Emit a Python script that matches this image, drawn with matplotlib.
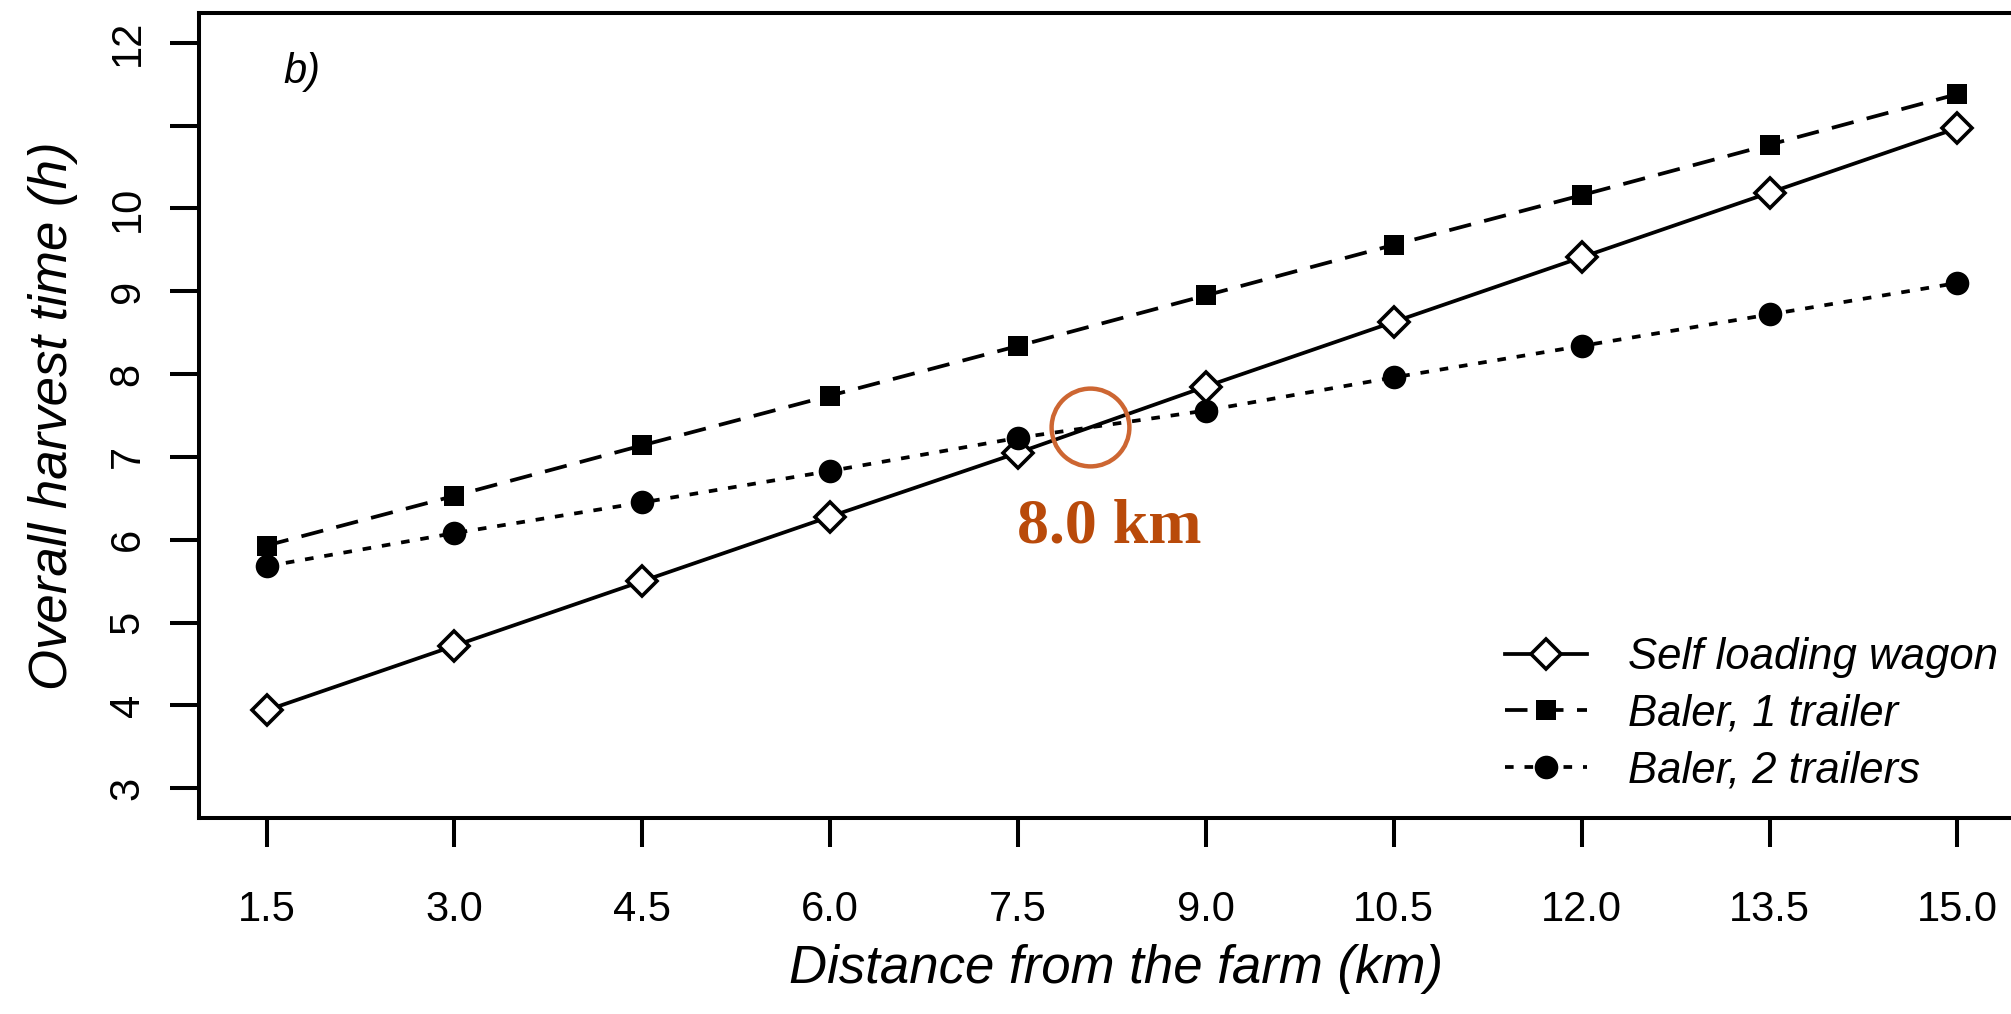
import numpy as np
import matplotlib.pyplot as plt

distance = [1.5, 3.0, 4.5, 6.0, 7.5, 9.0, 10.5, 12.0, 13.5, 15.0]
wagon = [3.94, 4.72, 5.50, 6.28, 7.05, 7.85, 8.63, 9.41, 10.19, 10.97]
baler_1 = [5.93, 6.53, 7.14, 7.74, 8.34, 8.95, 9.56, 10.16, 10.77, 11.38]
baler_2 = [5.68, 6.08, 6.45, 6.83, 7.23, 7.56, 7.96, 8.34, 8.72, 9.10]
series_labels = ['Self loading wagon', 'Baler, 1 trailer', 'Baler, 2 trailers']
x_ticklabels = ['1.5', '3.0', '4.5', '6.0', '7.5', '9.0', '10.5', '12.0', '13.5', '15.0']
y_ticks = [3, 4, 5, 6, 7, 8, 9, 10, 11, 12]
y_ticklabels = ['3', '4', '5', '6', '7', '8', '9', '10', '', '12']
break_even_label = '8.0 km'

plt.rcParams['font.family'] = 'Liberation Sans'

W, H = 2011, 1014
fig = plt.figure(figsize=(W / 100, H / 100), dpi=100)
# axes run a little past the right edge of the picture, as in the original
ax = fig.add_axes([199 / W, (H - 818) / H, (2025 - 199) / W, (818 - 13) / H])

lw = 2.7
ax.plot(distance, wagon, color='black', lw=lw, ls='-', marker='D', ms=15,
        mfc='white', mec='black', mew=2.6, label=series_labels[0])
ax.plot(distance, baler_1, color='black', lw=lw, ls=(0, (6, 3.6)), marker='s', ms=14,
        mfc='black', mec='black', mew=0, label=series_labels[1])
ax.plot(distance, baler_2, color='black', lw=lw, ls=(0, (2.3, 2.9)), marker='o', ms=17,
        mfc='black', mec='black', mew=0, label=series_labels[2])

# where the wagon line crosses the two-trailer baler line
d = np.array(wagon) - np.array(baler_2)
i = np.where(np.diff(np.sign(d)))[0][0]
t = d[i] / (d[i] - d[i + 1])
cross_x = distance[i] + t * (distance[i + 1] - distance[i])
cross_y = wagon[i] + t * (wagon[i + 1] - wagon[i])
ax.plot([cross_x], [cross_y], marker='o', ms=56, mfc='none', mec='#CD6632', mew=3.2)
ax.annotate(break_even_label, (cross_x, cross_y), xytext=(14, -72), textcoords='offset points',
            ha='center', va='center', fontsize=46, fontweight='bold',
            family='Liberation Serif', color='#B94A0A')

ax.set_xlim(0.96, 15.54)
ax.set_ylim(2.64, 12.36)
ax.set_xticks(distance)
ax.set_xticklabels(x_ticklabels)
ax.set_yticks(y_ticks)
ax.set_yticklabels(y_ticklabels, rotation=90, va='center')

for s in ax.spines.values():
    s.set_linewidth(2.9)
ax.tick_params(axis='both', length=21, width=2.9, labelsize=30)
ax.tick_params(axis='x', pad=31)
ax.tick_params(axis='y', pad=16)

ax.set_xlabel('Distance from the farm (km)', fontsize=38, style='italic')
ax.set_ylabel('Overall harvest time (h)', fontsize=38, style='italic')
ax.xaxis.set_label_coords(0.502, -0.157)
ax.yaxis.set_label_coords(-0.066, 0.5)

ax.text(302 / W, 1 - 72 / H, 'b)', transform=fig.transFigure, fontsize=30,
        style='italic', ha='center', va='center')

ax.legend(loc='upper left', bbox_to_anchor=(1505 / W, 1 - 637 / H),
          bbox_transform=fig.transFigure, frameon=False, borderpad=0,
          prop={'size': 31.5, 'style': 'italic'},
          handlelength=1.88, handletextpad=0.92, labelspacing=0.36,
          numpoints=1, borderaxespad=0)

fig.savefig('out.png', dpi=100)
